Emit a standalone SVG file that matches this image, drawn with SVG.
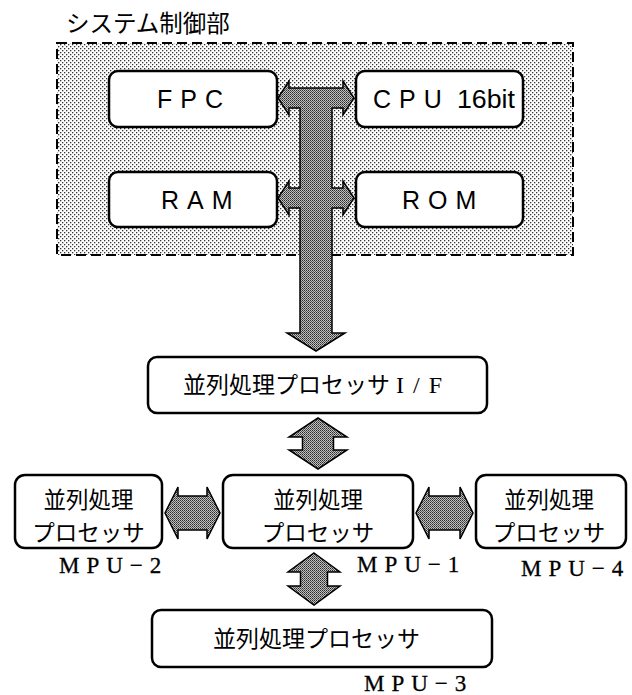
<svg xmlns="http://www.w3.org/2000/svg" width="632" height="695" viewBox="0 0 632 695">
<defs>
<pattern id="bg" width="4" height="4" patternUnits="userSpaceOnUse">
<rect width="4" height="4" fill="#ffffff"/>
<rect x="0" y="0" width="1.3" height="1.3" fill="#333"/>
<rect x="2" y="2" width="1.3" height="1.3" fill="#333"/>
</pattern>
<pattern id="dk" width="2" height="2" patternUnits="userSpaceOnUse">
<rect width="2" height="2" fill="#c0c0c0"/>
<rect x="0" y="0" width="1" height="1" fill="#2a2a2a"/>
<rect x="1" y="1" width="1" height="1" fill="#555"/>
</pattern>
</defs>
<style>
.box{fill:#fff;stroke:#000;stroke-width:2.5}
.arr{fill:url(#dk);stroke:#000;stroke-width:1.5;stroke-linejoin:miter}
.lat{font-family:"Liberation Sans",Arial,sans-serif;font-size:25px;fill:#000}
.jp{font-family:"Noto Sans CJK JP","Noto Sans CJK SC",sans-serif;font-size:23px;fill:#000}
.two{font-size:22.5px}
.lbl{font-family:"Liberation Serif","Times New Roman",serif;font-size:23px;letter-spacing:7px;fill:#000;stroke:#000;stroke-width:0.3}
</style>
<rect width="632" height="695" fill="#fff"/>

<g id="system-control">
<text x="66" y="32" class="jp" style="font-size:23.5px">システム制御部</text>
<rect x="57" y="43" width="516" height="212" fill="url(#bg)" stroke="#000" stroke-width="2" stroke-dasharray="10,5"/>
</g>

<g id="fpc">
<rect class="box" x="109" y="71" width="168" height="56" rx="9"/>
<text class="lat" x="157" y="108" letter-spacing="8">FPC</text>
</g>
<g id="cpu">
<rect class="box" x="356" y="71" width="167" height="56" rx="9"/>
<text class="lat" x="373" y="108" letter-spacing="8">CPU</text>
<text class="lat" x="457" y="108" textLength="58" lengthAdjust="spacingAndGlyphs">16bit</text>
</g>
<g id="ram">
<rect class="box" x="109" y="172" width="168" height="55" rx="9"/>
<text class="lat" x="161" y="209" letter-spacing="8">RAM</text>
</g>
<g id="rom">
<rect class="box" x="356" y="172" width="167" height="55" rx="9"/>
<text class="lat" x="402" y="209" letter-spacing="8">ROM</text>
</g>

<g id="if">
<rect class="box" x="148" y="357" width="339" height="56" rx="9"/>
<text class="jp" x="183" y="393">並列処理プロセッサ<tspan font-family="Liberation Serif,serif" font-size="24" dx="6" letter-spacing="9">I/F</tspan></text>
</g>

<g id="mpu2">
<rect class="box" x="15" y="475" width="147" height="73" rx="10"/>
<text class="jp two" x="88.5" y="508" text-anchor="middle">並列処理</text>
<text class="jp two" x="88.5" y="541" text-anchor="middle">プロセッサ</text>
<text class="lbl" x="59" y="573">MPU−2</text>
</g>
<g id="mpu1">
<rect class="box" x="223" y="475" width="190" height="73" rx="10"/>
<text class="jp two" x="318" y="508" text-anchor="middle">並列処理</text>
<text class="jp two" x="318" y="541" text-anchor="middle">プロセッサ</text>
<text class="lbl" x="357" y="572">MPU−1</text>
</g>
<g id="mpu4">
<rect class="box" x="476" y="475" width="150" height="73" rx="10"/>
<text class="jp two" x="549" y="508" text-anchor="middle">並列処理</text>
<text class="jp two" x="549" y="541" text-anchor="middle">プロセッサ</text>
<text class="lbl" x="521" y="576">MPU−4</text>
</g>
<g id="mpu3">
<rect class="box" x="152" y="610" width="340" height="57" rx="9"/>
<text class="jp" x="213" y="647">並列処理プロセッサ</text>
<text class="lbl" x="364" y="691">MPU−3</text>
</g>

<g id="connectors">
<path class="arr" d="M278,98 L289,81 L289,88 L343,88 L343,81 L354,98 L343,115 L343,108 L332,108 L332,188 L343,188 L343,181 L354,198 L343,215 L343,208 L332,208 L332,333 L345,333 L316,351 L287,333 L300,333 L300,208 L289,208 L289,215 L278,198 L289,181 L289,188 L300,188 L300,108 L289,108 L289,115 Z"/>
<path class="arr" d="M318,418 L347,437 L333.5,437 L333.5,450 L347,450 L318,469 L289,450 L302.5,450 L302.5,437 L289,437 Z"/>
<path class="arr" d="M165,513 L178,487 L178,496 L207,496 L207,487 L220,513 L207,539 L207,530 L178,530 L178,539 Z"/>
<path class="arr" d="M416,513 L429,487 L429,496 L460,496 L460,487 L473,513 L460,539 L460,530 L429,530 L429,539 Z"/>
<path class="arr" d="M314,553 L340,572 L327.5,572 L327.5,586 L340,586 L314,605 L288,586 L300.5,586 L300.5,572 L288,572 Z"/>
</g>
</svg>
